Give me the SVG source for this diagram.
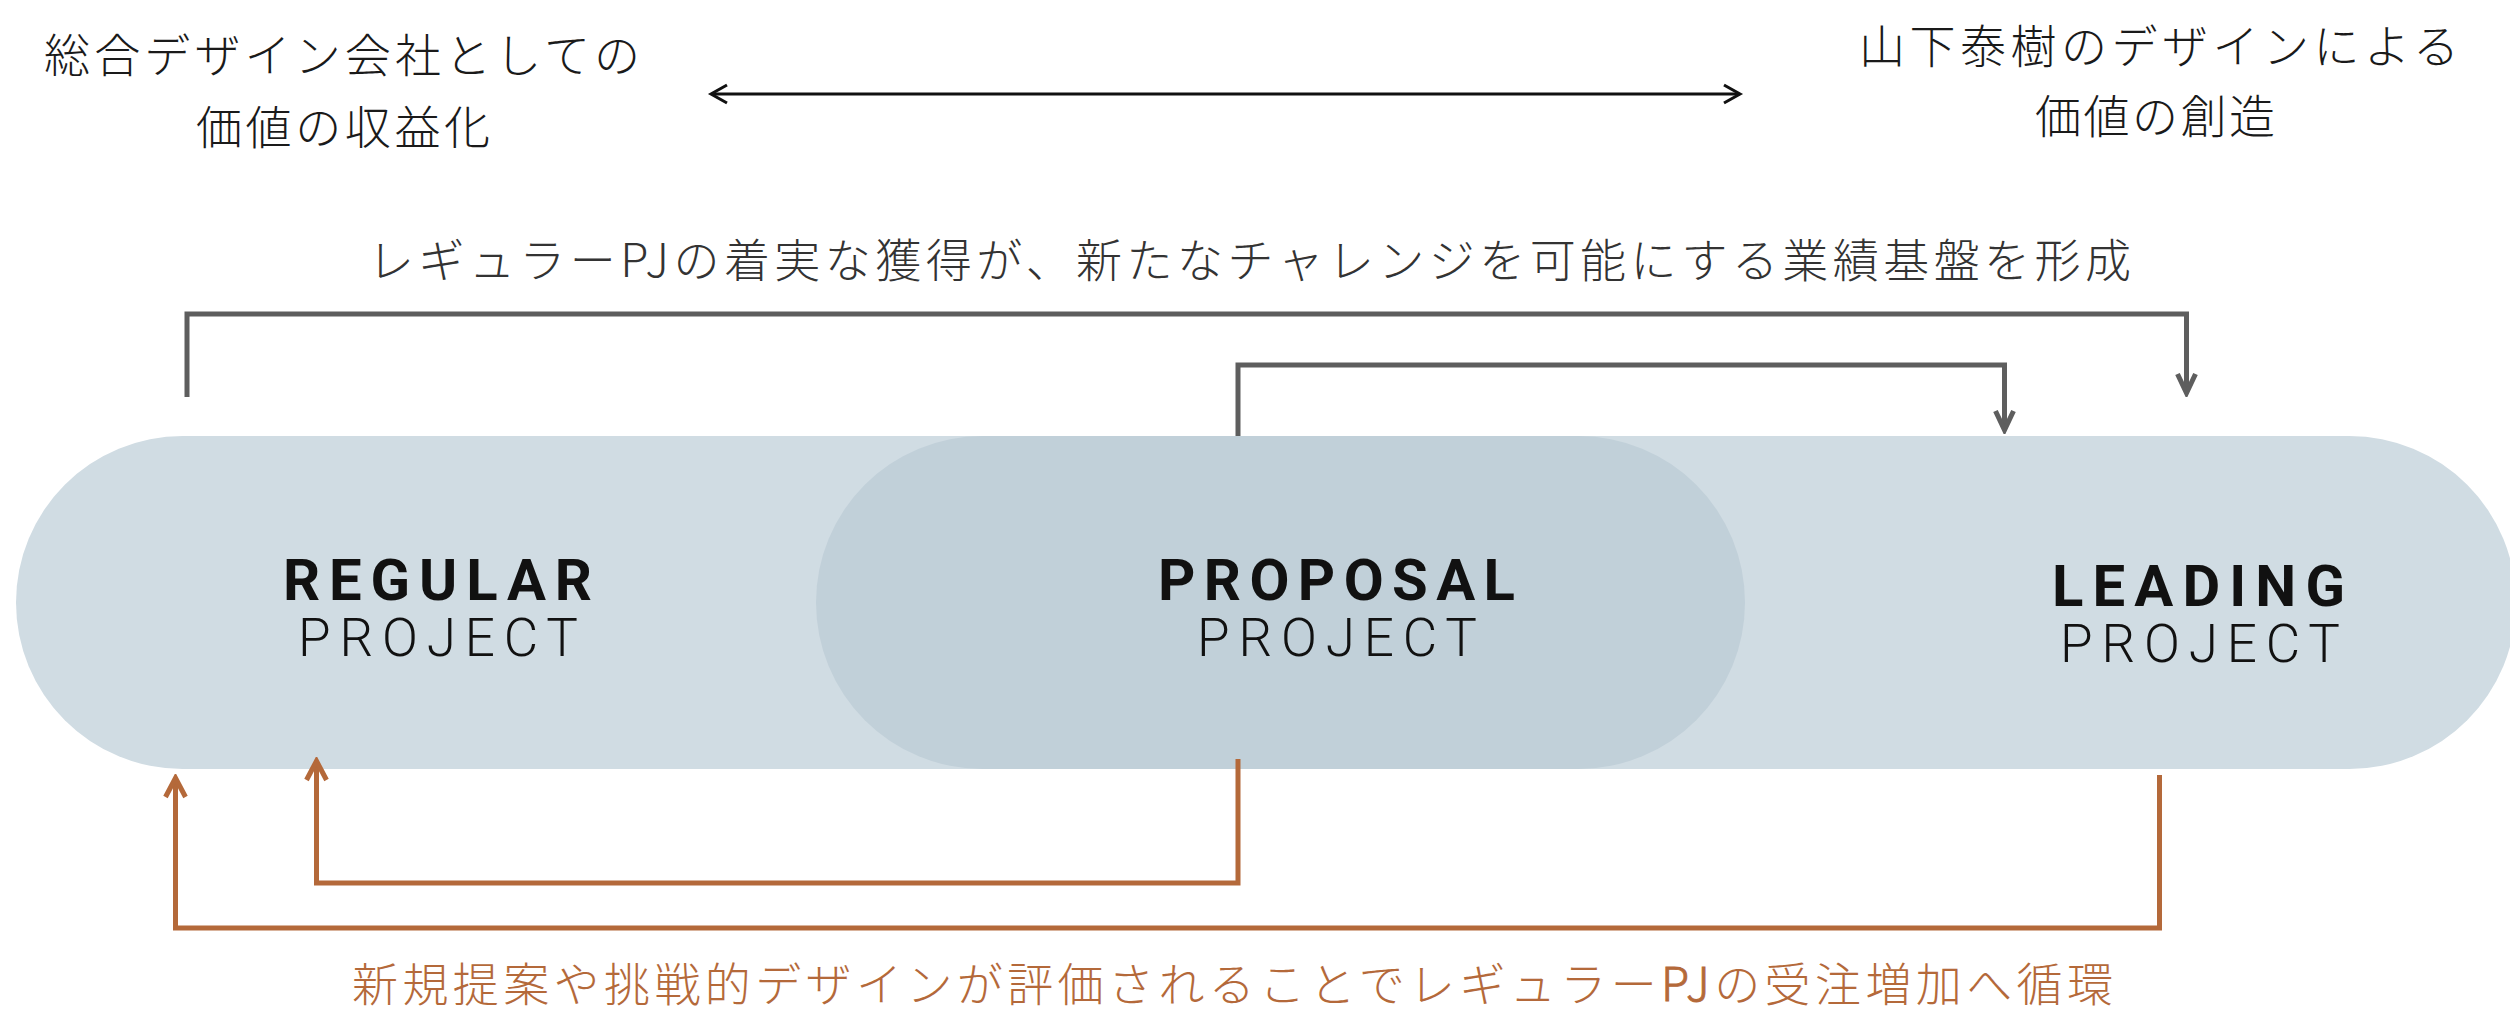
<svg xmlns="http://www.w3.org/2000/svg" width="2510" height="1009" viewBox="0 0 2510 1009">
  <style>
    .jp { font-family: "Noto Sans CJK JP", "Noto Sans", sans-serif; font-weight: 300; }
    .head { font-size: 46px; fill: #1a1a1a; }
    .cap { font-size: 46px; fill: #333333; }
    .capo { font-size: 46px; fill: #b4693a; }
    .t1 { font-family: Roboto, "Liberation Sans", sans-serif; font-weight: 700; font-size: 58px; fill: #111111; }
    .t2 { font-family: Roboto, "Liberation Sans", sans-serif; font-weight: 300; font-size: 53px; fill: #111111; }
    .gray { fill: none; stroke: #5e5e5e; stroke-width: 5; }
    .orange { fill: none; stroke: #b4693a; stroke-width: 5; }
    .black { fill: none; stroke: #111111; stroke-width: 3; }
  </style>
  <defs>
    <marker id="ag" viewBox="-20 -12 28 24" refX="0" refY="0" markerWidth="28" markerHeight="24" markerUnits="userSpaceOnUse" orient="auto">
      <path d="M-15,-9 L4,0 L-15,9" fill="none" stroke="#5e5e5e" stroke-width="5"/>
    </marker>
    <marker id="ao" viewBox="-20 -13 28 26" refX="0" refY="0" markerWidth="28" markerHeight="26" markerUnits="userSpaceOnUse" orient="auto">
      <path d="M-15,-10 L4,0 L-15,10" fill="none" stroke="#b4693a" stroke-width="5"/>
    </marker>
    <marker id="ab" viewBox="-18 -12 26 24" refX="0" refY="0" markerWidth="26" markerHeight="24" markerUnits="userSpaceOnUse" orient="auto-start-reverse">
      <path d="M-14,-9 L2,0 L-14,9" fill="none" stroke="#111111" stroke-width="3"/>
    </marker>
  </defs>

  <g id="band">
    <rect x="16" y="436" width="2500" height="333" rx="166.5" ry="166.5" fill="#d0dce3"/>
  </g>
  <g id="proposal-band">
    <rect x="816" y="436" width="929" height="333" rx="166.5" ry="166.5" fill="#c1d0d9"/>
  </g>

  <g id="node-left-goal">
    <text class="jp head" x="44" y="72" textLength="596" lengthAdjust="spacing">総合デザイン会社としての</text>
    <text class="jp head" x="196" y="144" textLength="294" lengthAdjust="spacing">価値の収益化</text>
  </g>
  <g id="node-right-goal">
    <text class="jp head" x="1859" y="63" textLength="600" lengthAdjust="spacing">山下泰樹のデザインによる</text>
    <text class="jp head" x="2035" y="133" textLength="240" lengthAdjust="spacing">価値の創造</text>
  </g>

  <g id="node-regular">
    <text class="t1" x="283" y="600" textLength="309" lengthAdjust="spacing">REGULAR</text>
    <text class="t2" x="298" y="656" textLength="280" lengthAdjust="spacing">PROJECT</text>
  </g>
  <g id="node-proposal">
    <text class="t1" x="1158" y="600" textLength="357" lengthAdjust="spacing">PROPOSAL</text>
    <text class="t2" x="1197" y="656" textLength="280" lengthAdjust="spacing">PROJECT</text>
  </g>
  <g id="node-leading">
    <text class="t1" x="2052" y="606" textLength="293" lengthAdjust="spacing">LEADING</text>
    <text class="t2" x="2060" y="662" textLength="280" lengthAdjust="spacing">PROJECT</text>
  </g>

  <g id="label-top">
    <text class="jp cap" x="368" y="277" textLength="1763" lengthAdjust="spacing">レギュラーPJの着実な獲得が、新たなチャレンジを可能にする業績基盤を形成</text>
  </g>
  <g id="label-bottom">
    <text class="jp capo" x="352" y="1001" textLength="1761" lengthAdjust="spacing">新規提案や挑戦的デザインが評価されることでレギュラー<tspan stroke="#b4693a" stroke-width="0.9">PJ</tspan>の受注増加へ循環</text>
  </g>

  <g id="connectors">
    <path class="black" d="M713,94 H1738" marker-start="url(#ab)" marker-end="url(#ab)"/>
    <path class="gray" d="M187,397 V314 H2186.5 V389" marker-end="url(#ag)"/>
    <path class="gray" d="M1238,436 V365 H2004.5 V426" marker-end="url(#ag)"/>
    <path class="orange" d="M1238,759 V883 H316.5 V765" marker-end="url(#ao)"/>
    <path class="orange" d="M2159.5,775 V928 H175.5 V782" marker-end="url(#ao)"/>
  </g>
</svg>
